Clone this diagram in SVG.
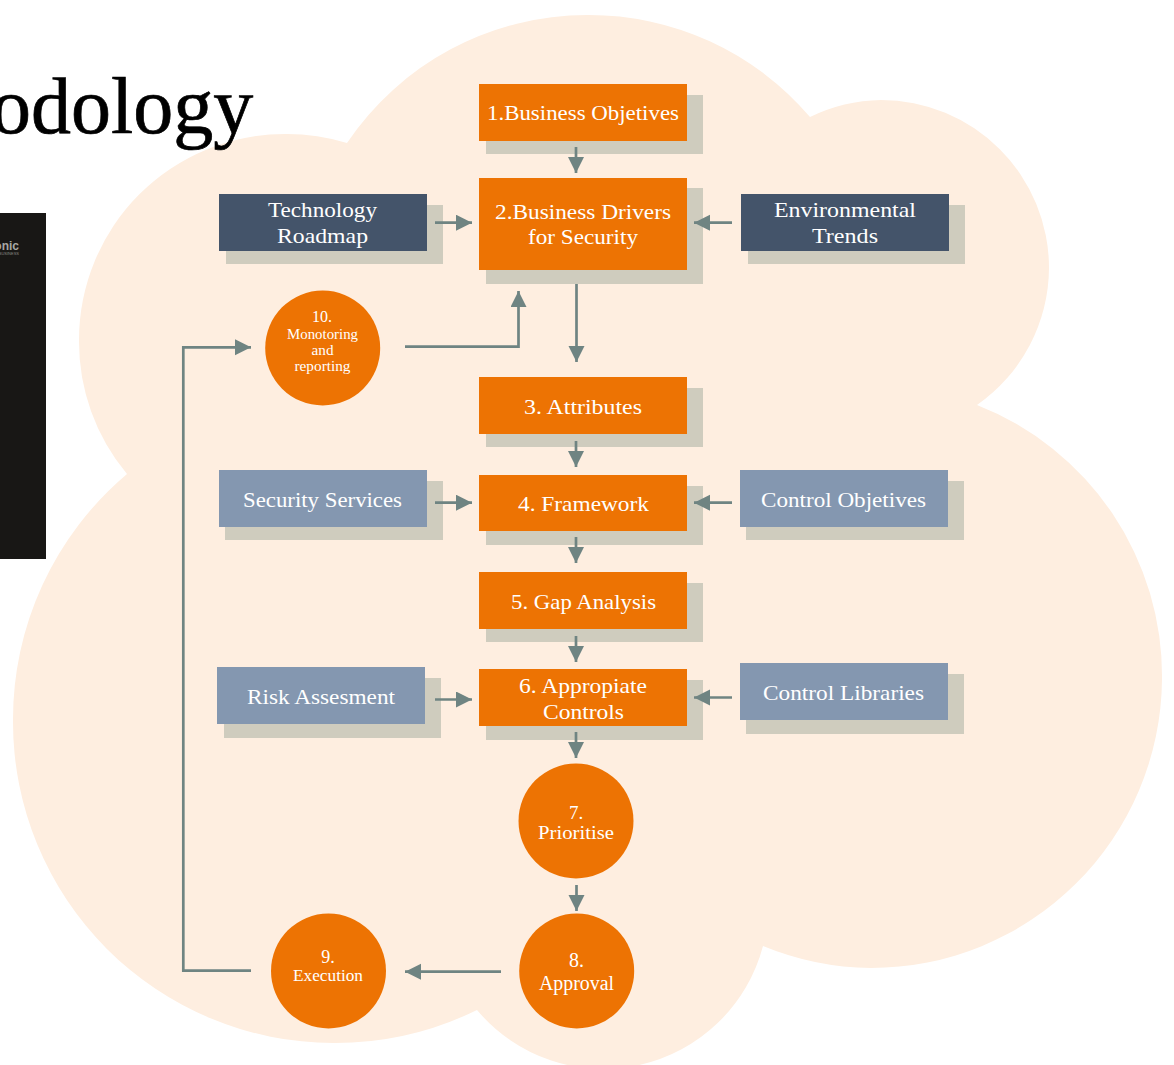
<svg xmlns="http://www.w3.org/2000/svg" width="1174" height="1065" viewBox="0 0 1174 1065">
<style>
text{font-family:"Liberation Serif",serif;fill:#fff;text-anchor:middle}
.m{font-size:21px}
.o{fill:#ED7303}
.d{fill:#44546A}
.l{fill:#8497B0}
.h{fill:#CFCCBE}
.c{fill:none;stroke:#6F8482;stroke-width:2.7;marker-end:url(#a)}
</style>
<defs><marker id="a" markerUnits="userSpaceOnUse" markerWidth="18" markerHeight="18" refX="16" refY="8" orient="auto"><path d="M0,0L16,8L0,16Z" fill="#6F8482"/></marker></defs>
<rect width="1174" height="1065" fill="#fff"/>
<rect x="0" y="213" width="46" height="346" fill="#181715"/>
<text x="19" y="250" style="font-size:12px;font-weight:700;fill:#A8A8A4;text-anchor:end;font-family:'Liberation Sans',sans-serif">onic</text>
<text x="19" y="255" style="font-size:4px;fill:#8A8A86;text-anchor:end;font-family:'Liberation Sans',sans-serif">BUSINESS</text>
<path id="cloud" fill="#FEEEE0" d="M347,143A290,290 0 0 1 587,15A290,290 0 0 1 810,117A168,168 0 0 1 881,100A168,168 0 0 1 1049,268A168,168 0 0 1 977,405A291,291 0 0 1 1162,680A291,291 0 0 1 871,968A291,291 0 0 1 763,946A165,165 0 0 1 477,1010A321,321 0 0 1 333,1043A321,321 0 0 1 13,722A321,321 0 0 1 127,474A206,206 0 0 1 79,340A206,206 0 0 1 285,134A206,206 0 0 1 347,143Z"/>
<text x="-9" y="133" style="font-size:80px;fill:#000;stroke:#000;stroke-width:0.7;text-anchor:start">odology</text>
<g id="n1"><rect class="h" x="486" y="95" width="217" height="59"/><rect class="o" x="479" y="84" width="208" height="57"/><text class="m" x="583" y="120" textLength="192" lengthAdjust="spacingAndGlyphs">1.Business Objetives</text></g>
<g id="n2"><rect class="h" x="486" y="188" width="217" height="96"/><rect class="o" x="479" y="178" width="208" height="92"/><text class="m" x="583" y="219" textLength="176" lengthAdjust="spacingAndGlyphs">2.Business Drivers</text><text class="m" x="583" y="244" textLength="110" lengthAdjust="spacingAndGlyphs">for Security</text></g>
<g id="tech"><rect class="h" x="226" y="205" width="217" height="59"/><rect class="d" x="219" y="194" width="208" height="57"/><text class="m" x="322.5" y="217" textLength="109" lengthAdjust="spacingAndGlyphs">Technology</text><text class="m" x="322.5" y="243" textLength="91" lengthAdjust="spacingAndGlyphs">Roadmap</text></g>
<g id="env"><rect class="h" x="748" y="205" width="217" height="59"/><rect class="d" x="741" y="194" width="208" height="57"/><text class="m" x="845" y="217" textLength="142" lengthAdjust="spacingAndGlyphs">Environmental</text><text class="m" x="845" y="243" textLength="66" lengthAdjust="spacingAndGlyphs">Trends</text></g>
<g id="n3"><rect class="h" x="486" y="388" width="217" height="59"/><rect class="o" x="479" y="377" width="208" height="57"/><text class="m" x="583" y="414" textLength="118" lengthAdjust="spacingAndGlyphs">3. Attributes</text></g>
<g id="sec"><rect class="h" x="225" y="481" width="218" height="59"/><rect class="l" x="219" y="470" width="208" height="57"/><text class="m" x="322.5" y="507" textLength="159" lengthAdjust="spacingAndGlyphs">Security Services</text></g>
<g id="n4"><rect class="h" x="486" y="486" width="217" height="59"/><rect class="o" x="479" y="475" width="208" height="56"/><text class="m" x="583.5" y="511" textLength="131" lengthAdjust="spacingAndGlyphs">4. Framework</text></g>
<g id="ctlobj"><rect class="h" x="746" y="481" width="218" height="59"/><rect class="l" x="740" y="470" width="208" height="57"/><text class="m" x="843.5" y="507" textLength="165" lengthAdjust="spacingAndGlyphs">Control Objetives</text></g>
<g id="n5"><rect class="h" x="486" y="583" width="217" height="59"/><rect class="o" x="479" y="572" width="208" height="57"/><text class="m" x="583.5" y="609" textLength="145" lengthAdjust="spacingAndGlyphs">5. Gap Analysis</text></g>
<g id="risk"><rect class="h" x="224" y="678" width="217" height="60"/><rect class="l" x="217" y="667" width="208" height="57"/><text class="m" x="321" y="704" textLength="148" lengthAdjust="spacingAndGlyphs">Risk Assesment</text></g>
<g id="n6"><rect class="h" x="486" y="680" width="217" height="60"/><rect class="o" x="479" y="669" width="208" height="57"/><text class="m" x="583" y="693" textLength="128" lengthAdjust="spacingAndGlyphs">6. Appropiate</text><text class="m" x="583.5" y="719" textLength="81" lengthAdjust="spacingAndGlyphs">Controls</text></g>
<g id="ctllib"><rect class="h" x="746" y="674" width="218" height="60"/><rect class="l" x="740" y="663" width="208" height="57"/><text class="m" x="843.5" y="700" textLength="161" lengthAdjust="spacingAndGlyphs">Control Libraries</text></g>
<g id="n10"><circle class="o" cx="322.7" cy="348" r="57.5"/><text x="322" y="322" style="font-size:16px">10.</text><text x="322.5" y="339" style="font-size:14.5px" textLength="71" lengthAdjust="spacingAndGlyphs">Monotoring</text><text x="322.5" y="355" style="font-size:14.5px" textLength="22" lengthAdjust="spacingAndGlyphs">and</text><text x="322.5" y="371" style="font-size:14.5px" textLength="56" lengthAdjust="spacingAndGlyphs">reporting</text></g>
<g id="n7"><circle class="o" cx="576" cy="821" r="57.5"/><text x="576" y="819" style="font-size:19px">7.</text><text x="576" y="839" style="font-size:19px" textLength="76" lengthAdjust="spacingAndGlyphs">Prioritise</text></g>
<g id="n8"><circle class="o" cx="576.7" cy="971" r="57.5"/><text x="576.5" y="967" style="font-size:20px">8.</text><text x="576.5" y="990" style="font-size:20px" textLength="75" lengthAdjust="spacingAndGlyphs">Approval</text></g>
<g id="n9"><circle class="o" cx="328.5" cy="971" r="57.5"/><text x="328" y="963" style="font-size:18px">9.</text><text x="328" y="981" style="font-size:17px" textLength="70" lengthAdjust="spacingAndGlyphs">Execution</text></g>
<g id="connectors">
<path class="c" d="M576,147V173"/>
<path class="c" d="M576.5,284V362"/>
<path class="c" d="M405,346.7H518.5V291"/>
<path class="c" d="M435,222.7H472"/>
<path class="c" d="M732,222.7H694"/>
<path class="c" d="M576,441V467"/>
<path class="c" d="M435,502.7H472"/>
<path class="c" d="M732,502.7H694"/>
<path class="c" d="M576,537V563"/>
<path class="c" d="M576,636V662"/>
<path class="c" d="M435,699.5H472"/>
<path class="c" d="M732,697.5H694"/>
<path class="c" d="M576,732V758"/>
<path class="c" d="M576.5,885V911"/>
<path class="c" d="M501,971.7H405"/>
<path class="c" d="M251,970.7H183.3V347.3H251"/>
</g>
</svg>
